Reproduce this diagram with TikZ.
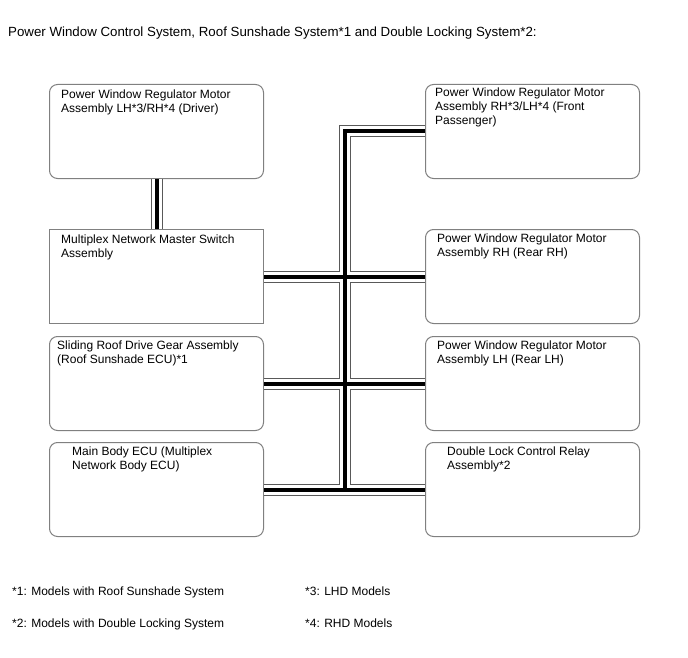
\documentclass[tikz,border=0pt]{standalone}
\usepackage{fontspec}
\setmainfont{Liberation Sans}
\usepackage{tikz}
\usetikzlibrary{calc}

\tikzset{
  unitbox/.style={draw=black!50, line width=1pt, rounded corners=8pt, minimum width=214pt, minimum height=94pt, inner sep=0pt, anchor=north west},
  switchbox/.style={unitbox, sharp corners},
  boxtext/.style={anchor=north west, align=left, inner sep=0pt, font=\fontsize{12}{14}\selectfont},
  note/.style={anchor=base west, inner sep=0pt, font=\fontsize{12}{14}\selectfont}
}

\begin{document}
\begin{tikzpicture}[x=1pt, y=-1pt]
  \useasboundingbox (0,0) rectangle (688,658);
  \node[note, font=\fontsize{13.3}{16}\selectfont] (title) at (8,37) {Power Window Control System, Roof Sunshade System*1 and Double Locking System*2:};

  \node[unitbox] (pwdrv) at (49,84) {};
  \node[switchbox] (mswitch) at (49,229) {};
  \node[unitbox] (roof) at (49,336) {};
  \node[unitbox] (mainecu) at (49,442) {};
  \node[unitbox] (pwfront) at (425,84) {};
  \node[unitbox] (pwrr) at (425,229) {};
  \node[unitbox] (pwrl) at (425,336) {};
  \node[unitbox] (dlock) at (425,442) {};

  \coordinate (busx) at ($(mswitch.east)!0.5!(pwrr.west)$);
  \coordinate (busend) at (busx |- mainecu.east);
  \foreach \w/\c in {12pt/black!65, 10pt/white, 4pt/black}
    \draw[line width=\w, \c] (pwdrv.south) -- (mswitch.north)
      (pwfront.west) -| (busend)
      (mswitch.east) -- (pwrr.west)
      (roof.east) -- (pwrl.west)
      (mainecu.east) -- (dlock.west);

  \node[boxtext] at ([shift={(12,6)}]pwdrv.north west) {Power Window Regulator Motor\\Assembly LH*3/RH*4 (Driver)};
  \node[boxtext] at ([shift={(12,6)}]mswitch.north west) {Multiplex Network Master Switch\\Assembly};
  \node[boxtext] at ([shift={(8,5)}]roof.north west) {Sliding Roof Drive Gear Assembly\\(Roof Sunshade ECU)*1};
  \node[boxtext] at ([shift={(23,5)}]mainecu.north west) {Main Body ECU (Multiplex\\Network Body ECU)};
  \node[boxtext] at ([shift={(10,4)}]pwfront.north west) {Power Window Regulator Motor\\Assembly RH*3/LH*4 (Front\\Passenger)};
  \node[boxtext] at ([shift={(12,5)}]pwrr.north west) {Power Window Regulator Motor\\Assembly RH (Rear RH)};
  \node[boxtext] at ([shift={(12,5)}]pwrl.north west) {Power Window Regulator Motor\\Assembly LH (Rear LH)};
  \node[boxtext] at ([shift={(22,5)}]dlock.north west) {Double Lock Control Relay\\Assembly*2};

  \node[note] (note1) at (12,595) {*1: Models with Roof Sunshade System};
  \node[note] (note2) at (12,627) {*2: Models with Double Locking System};
  \node[note] (note3) at (305,595) {*3: LHD Models};
  \node[note] (note4) at (305,627) {*4: RHD Models};
\end{tikzpicture}
\end{document}
